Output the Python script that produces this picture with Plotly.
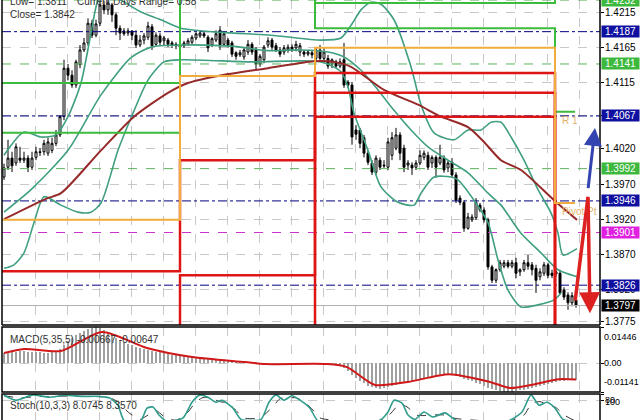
import plotly.graph_objects as go

# ---------------- price bars (bar index 0..143) ----------------
opens = [1.3980,1.3994,1.4007,1.4000,1.4007,1.4004,1.4007,1.3994,1.4008,1.4016,1.4016,1.4014,1.4018,1.4028,1.4040,1.4066,1.4135,1.4125,1.4111,1.4140,1.4161,1.4171,1.4199,1.4182,1.4199,1.4225,1.4218,1.4225,1.4211,1.4192,1.4188,1.4185,1.4188,
         1.4182,1.4168,1.4175,1.4179,1.4194,1.4169,1.4181,1.4174,1.4175,1.4171,1.4169,1.4168,1.4167,1.4169,1.4172,1.4178,1.4181,1.4184,1.4179,1.4168,1.4175,1.4189,1.4169,1.4175,1.4171,1.4157,1.4154,1.4151,1.4158,1.4169,1.4162,1.4141,1.4147,1.4168,1.4175,1.4167,1.4161,1.4158,1.4161,1.4165,1.4164,1.4158,1.4158,1.4155,1.4157,1.4149,
         1.4161,1.4149,1.4149,1.4141,1.4144,1.4138,1.4147,1.4115,1.4111,1.4047,1.4047,1.4036,1.4014,1.4000,1.3987,1.4004,1.3997,1.3994,1.4011,1.4021,1.4040,1.4021,1.3997,1.3997,1.3994,1.4000,1.4008,1.4011,1.4000,1.4008,1.4000,1.4007,1.3993,1.4001,1.3983,1.3950,1.3944,1.3907,1.3919,1.3922,1.3940,1.3933,1.3919,1.3852,1.3833,1.3848,1.3853,1.3858,1.3853,1.3858,1.3845,1.3848,1.3858,1.3855,1.3850,1.3838,1.3843,1.3855,1.3843,1.3845,1.3843,1.3819,1.3812,1.3801,1.3805]
closes = [1.3993,1.4007,1.3996,1.4023,1.4004,1.4007,1.3994,1.4007,1.4016,1.4015,1.4028,1.4030,1.4028,1.4040,1.4066,1.4135,1.4125,1.4111,1.4144,1.4161,1.4171,1.4199,1.4182,1.4198,1.4225,1.4218,1.4228,1.4211,1.4192,1.4185,1.4184,1.4188,1.4182,
          1.4168,1.4175,1.4181,1.4195,1.4167,1.4182,1.4172,1.4178,1.4169,1.4168,1.4167,1.4165,1.4171,1.4174,1.4179,1.4184,1.4185,1.4181,1.4164,1.4177,1.4184,1.4167,1.4184,1.4167,1.4155,1.4152,1.4157,1.4161,1.4169,1.4158,1.4141,1.4152,1.4165,1.4174,1.4165,1.4161,1.4155,1.4164,1.4165,1.4162,1.4169,1.4167,1.4155,1.4158,1.4154,1.4161,
          1.4149,1.4158,1.4138,1.4147,1.4138,1.4144,1.4111,1.4111,1.4037,1.4041,1.4028,1.4014,1.4001,1.3987,1.4007,1.3994,1.3996,1.4030,1.4036,1.4040,1.4014,1.3994,1.4000,1.3993,1.4000,1.4011,1.4014,1.3994,1.4008,1.3994,1.4008,1.3990,1.4000,1.3983,1.3947,1.3944,1.3907,1.3923,1.3923,1.3944,1.3933,1.3919,1.3852,1.3833,1.3848,1.3858,1.3858,1.3853,1.3858,1.3843,1.3848,1.3858,1.3853,1.3848,1.3833,1.3845,1.3855,1.3840,1.3840,1.3842,1.3815,1.3809,1.3801,1.3811,1.3797]
highs = [1.3999,1.4033,1.4016,1.4028,1.4023,1.4016,1.4011,1.4016,1.4023,1.4021,1.4033,1.4036,1.4036,1.4047,1.4068,1.4147,1.4141,1.4132,1.4147,1.4168,1.4178,1.4206,1.4204,1.4204,1.4232,1.4231,1.4232,1.4228,1.4214,1.4196,1.4192,1.4192,1.4189,
         1.4189,1.4182,1.4185,1.4201,1.4198,1.4186,1.4185,1.4181,1.4178,1.4174,1.4172,1.4171,1.4174,1.4178,1.4182,1.4186,1.4189,1.4188,1.4182,1.4179,1.4189,1.4195,1.4188,1.4178,1.4174,1.4159,1.4161,1.4164,1.4175,1.4172,1.4165,1.4155,1.4168,1.4179,1.4178,1.4171,1.4165,1.4168,1.4169,1.4169,1.4174,1.4171,1.4161,1.4161,1.4161,1.4164,
         1.4168,1.4164,1.4154,1.4149,1.4147,1.4149,1.4171,1.4118,1.4115,1.4054,1.4050,1.4040,1.4018,1.4004,1.4011,1.4008,1.4004,1.4036,1.4044,1.4050,1.4044,1.4026,1.4004,1.4001,1.4004,1.4018,1.4018,1.4016,1.4011,1.4011,1.4026,1.4011,1.4004,1.4007,1.3987,1.3954,1.3947,1.3929,1.3927,1.3950,1.3943,1.3937,1.3922,1.3855,1.3850,1.3862,1.3862,1.3862,1.3862,1.3865,1.3850,1.3862,1.3869,1.3859,1.3855,1.3850,1.3859,1.3858,1.3848,1.3848,1.3848,1.3823,1.3816,1.3816,1.3815]
lows = [1.3976,1.3990,1.3987,1.3996,1.4000,1.4000,1.3987,1.3990,1.4004,1.4010,1.4011,1.4010,1.4014,1.4024,1.4037,1.4061,1.4118,1.4107,1.4107,1.4135,1.4158,1.4167,1.4178,1.4179,1.4195,1.4212,1.4211,1.4201,1.4182,1.4175,1.4181,1.4181,1.4175,
        1.4164,1.4165,1.4169,1.4175,1.4161,1.4167,1.4168,1.4168,1.4165,1.4164,1.4162,1.4161,1.4164,1.4167,1.4169,1.4175,1.4178,1.4178,1.4158,1.4165,1.4172,1.4161,1.4167,1.4164,1.4151,1.4147,1.4151,1.4147,1.4154,1.4154,1.4132,1.4137,1.4142,1.4164,1.4161,1.4158,1.4151,1.4154,1.4157,1.4158,1.4159,1.4152,1.4151,1.4152,1.4149,1.4144,
        1.4144,1.4144,1.4134,1.4135,1.4135,1.4135,1.4107,1.4107,1.4026,1.4033,1.4021,1.4008,1.3997,1.3983,1.3983,1.3990,1.3993,1.3990,1.4004,1.4018,1.4004,1.3987,1.3990,1.3983,1.3990,1.3997,1.4004,1.3990,1.3993,1.3979,1.3997,1.3986,1.3987,1.3979,1.3943,1.3940,1.3902,1.3905,1.3916,1.3919,1.3930,1.3915,1.3848,1.3829,1.3829,1.3845,1.3850,1.3850,1.3850,1.3836,1.3839,1.3845,1.3848,1.3840,1.3815,1.3833,1.3839,1.3836,1.3836,1.3838,1.3812,1.3805,1.3791,1.3796,1.3794]
assert len(opens) == len(closes) == len(highs) == len(lows) == 144
bar_index = list(range(len(closes)))

# ---------------- moving average & bands (read at sample bars) ----------------
ma_x = [0, 10.5, 14.25, 24.25, 32.5, 41, 46, 53.5, 66, 77.5, 82.5, 86.75, 95, 103.5, 109.25, 116, 120, 124.25, 129.25, 137.5, 143.25]
ma_y = [1.3920, 1.3949, 1.3957, 1.4018, 1.4066, 1.4100, 1.4114, 1.4124, 1.4135, 1.4145, 1.4144, 1.4137, 1.4104, 1.4083, 1.4066, 1.4051, 1.4030, 1.4004, 1.3990, 1.3947, 1.3919]

bb_up_x = [0, 5, 9.25, 13, 16, 19.25, 21.75, 23.5, 25.5, 29.25, 34.25, 39.25, 44.25, 54.25, 66.75, 79.25, 84.25, 86.75, 89.25, 91.75,
           94.25, 97.5, 101.75, 104.25, 107.5, 112.5, 116, 119.25, 121.75, 124.25, 126.75, 130, 133.5, 136.75, 138.5, 139.75, 143.25]
bb_up_y = [1.4011, 1.4044, 1.4037, 1.4040, 1.4066, 1.4114, 1.4185, 1.4232, 1.4246, 1.4232, 1.4215, 1.4204, 1.4192, 1.4186, 1.4182, 1.4175, 1.4178, 1.4196, 1.4218, 1.4229,
           1.4226, 1.4204, 1.4137, 1.4083, 1.4043, 1.4033, 1.4047, 1.4047, 1.4058, 1.4058, 1.4037, 1.4004, 1.3962, 1.3929, 1.3900, 1.3869, 1.3878]
bb_mid_x = [0, 6.75, 16, 24.25, 31.75, 36.75, 44.25, 57.5, 66, 74.25, 81, 85, 89.25, 93.5, 97.5, 101.75, 106, 111, 116, 121, 124.25, 129.25, 134.25, 138.5, 143.25]
bb_mid_y = [1.3930, 1.3962, 1.4018, 1.4097, 1.4150, 1.4165, 1.4168, 1.4166, 1.4160, 1.4161, 1.4158, 1.4151, 1.4132, 1.4104, 1.4075, 1.4047, 1.4023, 1.4004, 1.3986, 1.3957, 1.3940, 1.3900, 1.3872, 1.3848, 1.3838]
bb_lo_x = [0, 2.5, 5, 7.5, 10, 14.25, 18.5, 21.75, 24.25, 28.5, 31.75, 36, 40, 44.25, 61.75, 79.25, 84.25, 86, 87.5, 91,
           94.25, 98.5, 102.5, 104.25, 107.5, 111.75, 113.5, 117.5, 121, 123.5, 126, 129.25, 133.5, 137.5, 139.25]
bb_lo_y = [1.3850, 1.3855, 1.3872, 1.3915, 1.3952, 1.3940, 1.3930, 1.3930, 1.3943, 1.4018, 1.4064, 1.4118, 1.4144, 1.4147, 1.4144, 1.4144, 1.4130, 1.4108, 1.4071, 1.4018,
           1.3966, 1.3944, 1.3940, 1.3957, 1.3980, 1.3980, 1.3976, 1.3947, 1.3915, 1.3862, 1.3819, 1.3795, 1.3798, 1.3805, 1.3815]

# ---------------- daily pivot step levels ----------------
pivot_x = [-0.5, 44.0, 77.75, 137.75, 142.75]
r3 = [1.4245, 1.4350, 1.4262, 1.4262]
r2 = [1.4114, 1.4300, 1.4228, 1.4245]
r1 = [1.4043, 1.4255, 1.4192, 1.4073]
pp = [1.3919, 1.4124, 1.4164, 1.3943]
s1 = [1.3846, 1.4004, 1.4128, 1.3740]
s2 = [1.3740, 1.3840, 1.4100, 1.3720]
s3 = [1.3700, 1.3700, 1.4066, 1.3700]

# ---------------- horizontal levels & axis labels ----------------
navy_levels = [1.4187, 1.4067, 1.3946, 1.3826]
green_levels = [1.4232, 1.4141, 1.3992]
magenta_levels = [1.3901]
bid_level = 1.3797
grid_levels = [1.4215, 1.4165, 1.4115, 1.4067, 1.4020, 1.3970, 1.3920, 1.3870, 1.3820, 1.3775]
tick_labels = ["1.4215", "1.4165", "1.4115", "1.4020", "1.3970", "1.3920", "1.3870", "1.3820", "1.3775"]

# ---------------- forecast drawings ----------------
fc_red_x = [142.75, 146.0, 146.5]
fc_red_y = [1.3802, 1.3952, 1.3786]
fc_blue_x = [146.0, 147.75]
fc_blue_y = [1.3962, 1.4050]

# ---------------- MACD ----------------
macd_hist = [0.0040, 0.0042, 0.0045, 0.0047, 0.0048, 0.0048, 0.0047, 0.0046, 0.0045, 0.0044, 0.0043, 0.0043, 0.0044, 0.0048,
             0.0056, 0.0072, 0.0088, 0.0100, 0.0112, 0.0122, 0.0130, 0.0137, 0.0142, 0.0144,
             0.0140, 0.0132, 0.0122, 0.0112, 0.0102, 0.0093, 0.0085, 0.0078,
             0.0072, 0.0067, 0.0062, 0.0058, 0.0054, 0.0050, 0.0047, 0.0044, 0.0041, 0.0038, 0.0035, 0.0032, 0.0030, 0.0028, 0.0026, 0.0024, 0.0022, 0.0020,
             0.0018, 0.0017, 0.0016, 0.0015, 0.0014, 0.0013, 0.0012, 0.0011, 0.0010, 0.0009, 0.0008, 0.0006, 0.0005, 0.0004, 0.0003, 0.0002, 0.0002, 0.0001, 0.0001, 0.0001,
             0.0000, 0.0000, -0.0001, -0.0001, 0.0000, 0.0000, -0.0001, -0.0002, -0.0002, -0.0003, -0.0003, -0.0004, -0.0005, -0.0007, -0.0010,
             -0.0018, -0.0030, -0.0045, -0.0058, -0.0070, -0.0080, -0.0089, -0.0096, -0.0100, -0.0101,
             -0.0099, -0.0096, -0.0092, -0.0088, -0.0084, -0.0080, -0.0076, -0.0072, -0.0068, -0.0064, -0.0060, -0.0057, -0.0054, -0.0051, -0.0049, -0.0047, -0.0046,
             -0.0047, -0.0050, -0.0055, -0.0061, -0.0067, -0.0072, -0.0077, -0.0083, -0.0090, -0.0097, -0.0103, -0.0108, -0.0111, -0.0113, -0.0114,
             -0.0113, -0.0111, -0.0108, -0.0105, -0.0101, -0.0097, -0.0093, -0.0089, -0.0085, -0.0081, -0.0077, -0.0074, -0.0072, -0.0070, -0.0068, -0.0067, -0.00667]
assert len(macd_hist) == 144
sig_x = [0, 5, 14.25, 24.5, 35.75, 47, 60.25, 65.25, 80.75, 85.75, 92.75, 101, 111.25, 121.5, 126.5, 131.75, 138.75, 143]
sig_y = [0.0041, 0.0057, 0.0049, 0.0125, 0.0061, 0.0025, 0.0005, -0.0003, -0.0003, -0.0015, -0.0086, -0.0074, -0.0043, -0.0074, -0.0098, -0.0086, -0.0063, -0.00647]
macd_labels = [0.01446, 0.0, -0.01141]

# ---------------- Stochastic ----------------
k_x = [0, 3, 7.25, 11.25, 15.25, 19.5, 23.5, 26.5, 28.5, 30, 34, 35.75, 37.25, 38.75, 40.75, 44.75, 47, 49, 51, 53,
       54.5, 57.25, 59.25, 64.25, 66.25, 68, 70, 72, 74, 76.5, 78.5, 86.5, 94, 96, 97.5, 99.5, 101, 102.75, 105, 107.25,
       110.25, 113.25, 124, 126.5, 129.5, 131.75, 133.75, 135.75, 137.75, 139.75, 143]
k_y = [97, 80, 98, 90, 97, 93, 93, 87, 63, 12, 6, 53, 57, 30, 8, 20, 73, 98, 90, 73,
       80, 53, 15, 15, 73, 98, 80, 95, 80, 53, 10, 5, 12, 40, 80, 70, 30, 15, 40, 23,
       37, 10, 5, 12, 40, 98, 63, 73, 53, 15, 8.0745]
d_x = [0, 4, 8, 12, 16, 20, 24, 27, 29, 31, 34, 36, 38, 40, 43, 46, 48, 50, 52, 54,
       56, 58, 60, 64, 67, 69, 71, 73, 75, 77, 79, 87, 95, 97, 99, 101, 103, 105, 107, 110,
       113, 124, 127, 130, 132, 134, 136, 138, 140, 143]
d_y = [95, 88, 92, 93, 94, 93, 92, 85, 70, 40, 15, 30, 45, 25, 12, 40, 75, 90, 85, 75,
       70, 45, 20, 20, 55, 85, 88, 88, 75, 50, 20, 8, 15, 40, 68, 55, 30, 28, 30, 30,
       18, 8, 12, 30, 70, 75, 65, 55, 30, 8.357]

# ================= figure =================
FONT = "Liberation Sans"
X_MIN, X_MAX = -0.5, 149.0
W, H = 640, 420
main_dom = [1 - 325 / H, 1]
macd_dom = [(H - 392) / H, (H - 327) / H]
stoch_dom = [0, (H - 394) / H]

fig = go.Figure()


def line_trace(x, y, color, width, dash="solid", shape="linear", xa="x", ya="y", smoothing=None):
    ln = dict(color=color, width=width, dash=dash, shape=shape)
    if smoothing is not None:
        ln["smoothing"] = smoothing
    fig.add_trace(go.Scatter(x=x, y=y, mode="lines", line=ln, xaxis=xa, yaxis=ya,
                             hoverinfo="skip", showlegend=False))


# horizontal levels
for v in navy_levels:
    line_trace([X_MIN, X_MAX], [v, v], "#000080", 1, dash="dashdot")
for v in green_levels:
    line_trace([X_MIN, X_MAX], [v, v], "#5fb35f", 1, dash="dash")
for v in magenta_levels:
    line_trace([X_MIN, X_MAX], [v, v], "#cc33cc", 1, dash="dash")
line_trace([X_MIN, X_MAX], [bid_level, bid_level], "#b0b0b0", 1)

# bands & MA
BAND = "#3f9f80"
line_trace(bb_up_x, bb_up_y, BAND, 1.6, shape="spline", smoothing=0.7)
line_trace(bb_mid_x, bb_mid_y, BAND, 1.6, shape="spline", smoothing=0.7)
line_trace(bb_lo_x, bb_lo_y, BAND, 1.6, shape="spline", smoothing=0.7)
line_trace(ma_x, ma_y, "#962a2a", 2, shape="spline", smoothing=0.7)

# pivot steps
for vals, col, w in [(r3, "#3dbb3d", 2), (r2, "#3dbb3d", 2), (r1, "#3dbb3d", 2),
                     (s3, "#dd1515", 2.5), (s2, "#dd1515", 2.5), (s1, "#dd1515", 2.5),
                     (pp, "#f0ac3c", 2)]:
    line_trace(pivot_x, vals + [vals[-1]], col, w, shape="hv")

# candles
fig.add_trace(go.Candlestick(
    x=bar_index, open=opens, high=highs, low=lows, close=closes,
    increasing=dict(line=dict(color="black", width=1), fillcolor="white"),
    decreasing=dict(line=dict(color="black", width=1), fillcolor="black"),
    whiskerwidth=0, xaxis="x", yaxis="y", hoverinfo="skip", showlegend=False))

# MACD
fig.add_trace(go.Bar(x=bar_index, y=macd_hist, marker=dict(color="#a0a0a0", line=dict(width=0)),
                     width=0.5, xaxis="x2", yaxis="y2", hoverinfo="skip", showlegend=False))
line_trace(sig_x, sig_y, "#d01818", 2, shape="spline", smoothing=0.7, xa="x2", ya="y2")

# Stochastic
line_trace(d_x, d_y, "#333333", 1, dash="dash", shape="spline", smoothing=0.6, xa="x3", ya="y3")
line_trace(k_x, k_y, "#2f9c8c", 1.6, shape="spline", smoothing=0.6, xa="x3", ya="y3")

grid = dict(showgrid=True, gridcolor="#c8c8c8", griddash="dash", gridwidth=1)
xcommon = dict(range=[X_MIN, X_MAX], domain=[0, 1], showticklabels=False, ticks="",
               tick0=7.75, dtick=8, zeroline=False, showline=False, **grid)

fig.update_layout(
    width=W, height=H, autosize=False,
    margin=dict(l=2, r=40, t=0, b=0),
    paper_bgcolor="white", plot_bgcolor="white",
    showlegend=False, bargap=0,
    xaxis=dict(anchor="y", rangeslider=dict(visible=False), **xcommon),
    xaxis2=dict(anchor="y2", matches="x", **xcommon),
    xaxis3=dict(anchor="y3", matches="x", **xcommon),
    yaxis=dict(domain=main_dom, range=[1.37693, 1.42321], side="right", tickvals=grid_levels,
               showticklabels=False, ticks="outside", ticklen=3, tickcolor="black",
               zeroline=False, showline=False, **grid),
    yaxis2=dict(domain=macd_dom, range=[-0.01141, 0.01446], side="right", tickvals=macd_labels,
                showticklabels=False, ticks="outside", ticklen=3, tickcolor="black",
                zeroline=False, showline=False, **grid),
    yaxis3=dict(domain=stoch_dom, range=[13, 101], side="right", tickvals=[80, 100],
                showticklabels=False, ticks="outside", ticklen=3, tickcolor="black",
                zeroline=False, showline=False, **grid),
)

# panel frames
shapes = []
for x0, y0, x1, y1 in [(0, 0, 0, 1), (1, 0, 1, 1), (0, 0, 1, 0)]:
    shapes.append(dict(type="line", xref="x domain", yref="y domain", x0=x0, y0=y0, x1=x1, y1=y1,
                       line=dict(color="black", width=1.5)))
shapes.append(dict(type="rect", xref="x2 domain", yref="y2 domain", x0=0, y0=0, x1=1, y1=1,
                   line=dict(color="black", width=1.5)))
shapes.append(dict(type="rect", xref="x3 domain", yref="y3 domain", x0=0, y0=-1, x1=1, y1=1,
                   line=dict(color="black", width=1.5)))
fig.update_layout(shapes=shapes)

ann = []
lab_font = dict(family=FONT, size=10, color="black")
small_font = dict(family=FONT, size=9, color="black")

# right axis tick labels
for t in tick_labels:
    ann.append(dict(x=1, xref="paper", y=float(t), yref="y", text=t, showarrow=False,
                    xanchor="left", xshift=3, font=lab_font))
# coloured level labels
for vals, bg in [(navy_levels, "#1010a0"), (green_levels, "#3cb83c"), (magenta_levels, "#e020e0")]:
    for v in vals:
        ann.append(dict(x=1, xref="paper", y=v, yref="y", text=f"{v:.4f}", showarrow=False,
                        xanchor="left", xshift=1, width=37, height=11, borderpad=0, align="center",
                        bgcolor=bg, font=dict(family=FONT, size=10, color="white")))
ann.append(dict(x=1, xref="paper", y=bid_level, yref="y", text=f"{bid_level:.4f}", showarrow=False,
                xanchor="left", xshift=1, width=37, height=11, borderpad=0, align="center",
                bgcolor="black", font=dict(family=FONT, size=10, color="white")))

# MACD labels
for v, anc, sh in [(macd_labels[0], "top", -3), (macd_labels[1], "middle", 0), (macd_labels[2], "bottom", 3)]:
    txt = "0.00" if v == 0 else f"{v:.5f}"
    ann.append(dict(x=1, xref="paper", y=v, yref="y2", text=txt, showarrow=False,
                    xanchor="left", xshift=2, yanchor=anc, yshift=sh, font=small_font))
# Stoch labels
ann.append(dict(x=1, xref="paper", y=100, yref="y3", text="100", showarrow=False,
                xanchor="left", xshift=3, yanchor="top", yshift=-1, font=small_font))
ann.append(dict(x=1, xref="paper", y=80, yref="y3", text="80", showarrow=False,
                xanchor="left", xshift=3, yanchor="middle", font=small_font))

# info texts
info_font = dict(family=FONT, size=10, color="#303030")
ann.append(dict(x=0, xref="paper", y=1 - 2 / H, yref="paper", text="Low= 1.3811", showarrow=False,
                xanchor="left", xshift=6, yanchor="middle", font=info_font))
ann.append(dict(x=0, xref="paper", y=1 - 2 / H, yref="paper", text="Current Days Range= 0.58", showarrow=False,
                xanchor="left", xshift=73, yanchor="middle", font=info_font))
ann.append(dict(x=0, xref="paper", y=1 - 15 / H, yref="paper", text="Close= 1.3842", showarrow=False,
                xanchor="left", xshift=6, yanchor="middle", font=info_font))
ann.append(dict(x=0, xref="paper", y=1 - 339 / H, yref="paper", text="MACD(5,35,5) -0.00667 -0.00647",
                showarrow=False, xanchor="left", xshift=6, yanchor="middle", font=info_font))
ann.append(dict(x=0, xref="paper", y=1 - 405 / H, yref="paper", text="Stoch(10,3,3) 8.0745 8.3570",
                showarrow=False, xanchor="left", xshift=6, yanchor="middle", font=info_font))

# pivot labels
tan = dict(family=FONT, size=10, color="#e2b46a")
ann.append(dict(x=pivot_x[3], y=r1[3], xref="x", yref="y", text="R 1", showarrow=False,
                xanchor="left", xshift=5, yanchor="top", yshift=-1, font=tan))
ann.append(dict(x=pivot_x[3], y=pp[3], xref="x", yref="y", text="Pivot Pt", showarrow=False,
                xanchor="left", xshift=5, yanchor="top", yshift=-1, font=tan))

# forecast arrows
ann.append(dict(x=fc_red_x[1], y=fc_red_y[1], ax=fc_red_x[0], ay=fc_red_y[0], xref="x", yref="y",
                axref="x", ayref="y", showarrow=True, arrowhead=0, arrowwidth=3.5, arrowcolor="#dd2020",
                standoff=0, text=""))
ann.append(dict(x=fc_red_x[2], y=fc_red_y[2], ax=fc_red_x[1], ay=fc_red_y[1], xref="x", yref="y",
                axref="x", ayref="y", showarrow=True, arrowhead=2, arrowsize=1.2, arrowwidth=3.5,
                arrowcolor="#dd2020", standoff=0, text=""))
ann.append(dict(x=fc_blue_x[1], y=fc_blue_y[1], ax=fc_blue_x[0], ay=fc_blue_y[0], xref="x", yref="y",
                axref="x", ayref="y", showarrow=True, arrowhead=2, arrowsize=1.2, arrowwidth=3,
                arrowcolor="#3344b0", standoff=0, text=""))

fig.update_layout(annotations=ann)

fig.write_html("out.html", include_plotlyjs=True,
               config={"displayModeBar": False, "staticPlot": True},
               post_script="document.body.style.margin='0';document.body.style.overflow='hidden';")
